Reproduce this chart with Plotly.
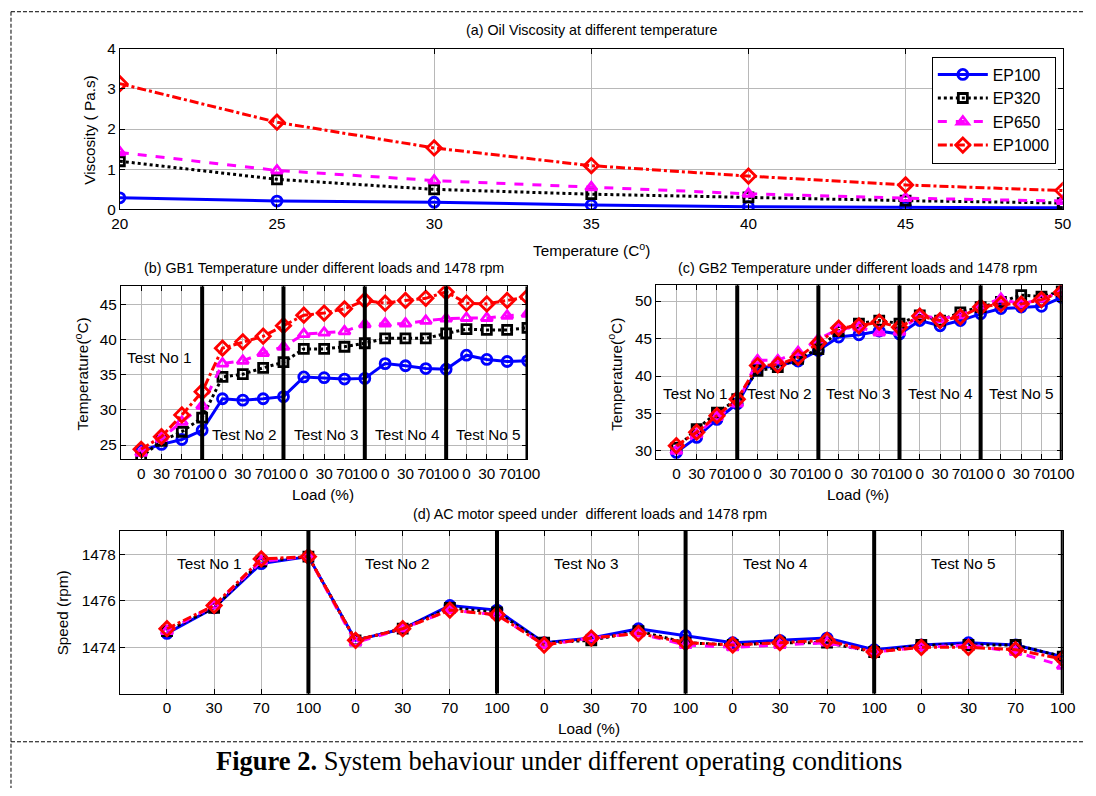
import plotly.graph_objects as go

W, H = 1096, 796

# ---------------- data ----------------
temps = [20, 25, 30, 35, 40, 45, 50]
visc_ep100 = [0.29, 0.21, 0.18, 0.11, 0.07, 0.06, 0.04]
visc_ep320 = [1.20, 0.75, 0.50, 0.38, 0.30, 0.22, 0.16]
visc_ep650 = [1.42, 0.97, 0.72, 0.55, 0.39, 0.28, 0.21]
visc_ep1000 = [3.13, 2.17, 1.53, 1.09, 0.83, 0.61, 0.47]

load_idx = list(range(1, 21))
load_labels = ["0", "30", "70", "100"] * 5
test_dividers = [4, 8, 12, 16, 20]
test_names = ["Test No 1", "Test No 2", "Test No 3", "Test No 4", "Test No 5"]

gb1_ep100 = [24.2, 25.1, 25.8, 27.1, 31.6, 31.4, 31.6, 31.9, 34.7, 34.6, 34.4, 34.5, 36.6, 36.3, 35.9, 35.8, 37.8, 37.2, 36.9, 37.0]
gb1_ep320 = [23.3, 25.6, 26.9, 28.9, 34.7, 35.1, 36.0, 36.8, 38.7, 38.7, 39.0, 39.5, 40.2, 40.2, 40.2, 40.9, 41.5, 41.4, 41.4, 41.7]
gb1_ep650 = [23.9, 26.0, 28.3, 30.6, 36.6, 37.0, 38.1, 39.0, 40.8, 41.0, 41.2, 42.2, 42.3, 42.3, 42.7, 43.0, 43.1, 43.1, 43.4, 43.7]
gb1_ep1000 = [24.4, 26.2, 29.3, 32.6, 38.8, 39.7, 40.5, 42.0, 43.5, 43.8, 44.4, 45.6, 45.2, 45.6, 45.9, 46.8, 45.2, 45.1, 45.6, 46.1]

gb2_ep100 = [29.8, 31.8, 34.2, 36.3, 41.0, 41.4, 42.0, 43.4, 45.2, 45.5, 46.0, 45.6, 47.4, 46.7, 47.4, 48.3, 49.0, 49.2, 49.3, 50.5]
gb2_ep320 = [30.4, 32.9, 35.1, 36.9, 40.7, 41.2, 42.3, 43.6, 46.0, 47.0, 47.4, 47.0, 48.1, 47.4, 48.5, 49.2, 49.9, 50.8, 50.6, 51.3]
gb2_ep650 = [30.0, 32.2, 34.5, 36.3, 42.1, 42.1, 43.2, 44.9, 46.3, 46.5, 45.8, 45.9, 48.2, 47.6, 48.1, 49.4, 50.3, 49.6, 50.3, 51.2]
gb2_ep1000 = [30.7, 32.5, 34.7, 36.9, 41.4, 41.5, 42.5, 44.4, 46.4, 46.7, 47.2, 46.5, 48.0, 47.4, 47.9, 49.2, 49.6, 49.6, 50.2, 51.2]

spd_ep100 = [1474.6, 1475.7, 1477.6, 1477.9, 1474.3, 1474.8, 1475.8, 1475.6, 1474.2, 1474.4, 1474.8, 1474.5, 1474.2, 1474.3, 1474.4, 1473.9, 1474.1, 1474.2, 1474.1, 1473.6]
spd_ep320 = [1474.7, 1475.7, 1477.7, 1477.9, 1474.3, 1474.8, 1475.7, 1475.5, 1474.2, 1474.3, 1474.7, 1474.2, 1474.1, 1474.2, 1474.2, 1473.8, 1474.1, 1474.1, 1474.1, 1473.6]
spd_ep650 = [1474.7, 1475.8, 1477.7, 1477.9, 1474.2, 1474.8, 1475.6, 1475.4, 1474.1, 1474.4, 1474.6, 1474.1, 1474.0, 1474.1, 1474.2, 1473.8, 1474.0, 1474.1, 1473.8, 1473.2]
spd_ep1000 = [1474.8, 1475.8, 1477.8, 1477.9, 1474.3, 1474.8, 1475.6, 1475.4, 1474.1, 1474.4, 1474.6, 1474.2, 1474.1, 1474.2, 1474.3, 1473.8, 1474.0, 1474.0, 1473.9, 1473.5]

# ---------------- styles ----------------
FONT = "Liberation Sans, Arial, sans-serif"
FS = 15.3   # general text size
TS = 14.3   # panel title size
styles = {
    "EP100": dict(color="#0000FF", dash="solid", symbol="circle-open", size=10),
    "EP320": dict(color="#000000", dash="dot", symbol="square-open", size=9),
    "EP650": dict(color="#FF00FF", dash="dash", symbol="triangle-up-open", size=10),
    "EP1000": dict(color="#FF0000", dash="dashdot", symbol="diamond-open", size=11),
}

# reference pixel -> paper fraction (compensates the page framing)
def px(x):
    return (1.0097 * x - 1.0) / W

def py(y):
    return 1 - (1.0205 * y - 6.4) / H

fig = go.Figure()

def add_series(xs, ys, name, xa, ya, show):
    s = styles[name]
    fig.add_trace(go.Scatter(
        x=xs, y=ys, name=name, mode="lines+markers",
        xaxis=xa, yaxis=ya, showlegend=show,
        line=dict(color=s["color"], width=3, dash=s["dash"]),
        marker=dict(symbol=s["symbol"], size=s["size"], color=s["color"],
                    line=dict(color=s["color"], width=2.8)),
    ))

names = ["EP100", "EP320", "EP650", "EP1000"]
for n, v in zip(names, [visc_ep100, visc_ep320, visc_ep650, visc_ep1000]):
    add_series(temps, v, n, "x", "y", True)
for n, v in zip(names, [gb1_ep100, gb1_ep320, gb1_ep650, gb1_ep1000]):
    add_series(load_idx, v, n, "x2", "y2", False)
for n, v in zip(names, [gb2_ep100, gb2_ep320, gb2_ep650, gb2_ep1000]):
    add_series(load_idx, v, n, "x3", "y3", False)
for n, v in zip(names, [spd_ep100, spd_ep320, spd_ep650, spd_ep1000]):
    add_series(load_idx, v, n, "x4", "y4", False)

axis_common = dict(
    showline=True, linecolor="black", linewidth=1.2, mirror="allticks",
    ticks="inside", ticklen=5, tickcolor="black", tickwidth=1,
    showgrid=True, gridcolor="#b8b8b8", gridwidth=1, zeroline=False,
    tickfont=dict(family=FONT, size=FS, color="black"), tickangle=0,
)

# panel geometry in reference pixels
geo = {
    1: dict(x0=113, x1=1066, y0=46, y1=207),
    2: dict(x0=114, x1=525, y0=284, y1=457),
    3: dict(x0=655, x1=1065, y0=283, y1=457),
    4: dict(x0=113, x1=1066, y0=529, y1=692),
}

layout = dict(
    width=W, height=H, margin=dict(l=0, r=0, t=0, b=0),
    paper_bgcolor="white", plot_bgcolor="white",
    font=dict(family=FONT, size=FS, color="black"),
    showlegend=True,
    legend=dict(x=px(1059), xanchor="right", y=py(54), yanchor="top",
                bordercolor="black", borderwidth=1, bgcolor="white",
                font=dict(family=FONT, size=15.8, color="black"),
                tracegroupgap=0, itemwidth=50),
)

for i in range(1, 5):
    g = geo[i]
    xs = "xaxis" if i == 1 else f"xaxis{i}"
    ys = "yaxis" if i == 1 else f"yaxis{i}"
    xa = dict(axis_common, domain=[px(g["x0"]), px(g["x1"])],
              anchor="y" if i == 1 else f"y{i}")
    ya = dict(axis_common, domain=[py(g["y1"]), py(g["y0"])],
              anchor="x" if i == 1 else f"x{i}")
    layout[xs] = xa
    layout[ys] = ya

layout["xaxis"].update(range=[20, 50], tickvals=temps, ticktext=[str(t) for t in temps])
layout["yaxis"].update(range=[0, 4], tickvals=[0, 1, 2, 3, 4])
for i in (2, 3, 4):
    layout[f"xaxis{i}"].update(range=[0, 20], tickvals=load_idx, ticktext=load_labels)
layout["yaxis2"].update(range=[23, 47.6], tickvals=[25, 30, 35, 40, 45])
layout["yaxis3"].update(range=[28.9, 52.1], tickvals=[30, 35, 40, 45, 50])
layout["yaxis4"].update(range=[1472, 1479], tickvals=[1474, 1476, 1478])

fig.update_layout(**layout)

# thick test divider lines (data x, full axis height)
yr = {2: (23, 47.6), 3: (28.9, 52.1), 4: (1472, 1479)}
shapes = []
for i in (2, 3, 4):
    for d in test_dividers:
        shapes.append(dict(type="line", xref=f"x{i}", yref=f"y{i}",
                           x0=d, x1=d, y0=yr[i][0], y1=yr[i][1],
                           line=dict(color="black", width=4), layer="above"))

# dashed frame
dash = "4px,2px"
shapes.append(dict(type="line", xref="paper", yref="paper", x0=px(3), x1=1, y0=py(9), y1=py(9),
                   line=dict(color="black", width=1, dash=dash)))
shapes.append(dict(type="line", xref="paper", yref="paper", x0=px(3), x1=px(3), y0=py(9), y1=0,
                   line=dict(color="black", width=1, dash=dash)))
shapes.append(dict(type="line", xref="paper", yref="paper", x0=px(3), x1=1, y0=py(740), y1=py(740),
                   line=dict(color="black", width=1, dash=dash)))
fig.update_layout(shapes=shapes)

ann = []

def text(x, y, s, size=FS, angle=0, family=FONT):
    ann.append(dict(x=px(x), y=py(y), xref="paper", yref="paper", text=s,
                    showarrow=False, xanchor="center", yanchor="middle",
                    textangle=angle, font=dict(family=family, size=size, color="black")))

# panel titles
text(590, 27, "(a) Oil Viscosity at different temperature", size=TS)
text(319, 266, "(b) GB1 Temperature under different loads and 1478 rpm", size=TS)
text(859, 266, "(c) GB2 Temperature under different loads and 1478 rpm", size=TS)
text(588, 512, "(d) AC motor speed under&nbsp;&nbsp;different loads and 1478 rpm", size=TS)

# axis titles
text(590, 247, "Temperature (C<sup>o</sup>)")
text(82, 128, "Viscosity ( Pa.s)", angle=-90)
text(318, 492, "Load (%)")
text(74, 372, "Temperature(<sup>o</sup>C)", angle=-90)
text(859, 492, "Load (%)")
text(613, 372, "Temperature(<sup>o</sup>C)", angle=-90)
text(587, 727, "Load (%)")
text(56, 611, "Speed (rpm)", angle=-90)

# test labels (data coordinates)
tb_x = [1.9, 6.1, 10.1, 14.1, 18.1]
tb_y = [37.45, 26.5, 26.5, 26.5, 26.5]
tc_x = [1.96, 6.1, 10.0, 14.0, 18.0]
td_x = [1.9, 5.9, 9.9, 13.9, 17.9]
for k, nm in enumerate(test_names):
    ann.append(dict(x=tb_x[k], y=tb_y[k], xref="x2", yref="y2", text=nm, showarrow=False,
                    xanchor="center", yanchor="middle", font=dict(family=FONT, size=FS, color="black")))
    ann.append(dict(x=tc_x[k], y=37.6, xref="x3", yref="y3", text=nm, showarrow=False,
                    xanchor="center", yanchor="middle", font=dict(family=FONT, size=FS, color="black")))
    ann.append(dict(x=td_x[k], y=1477.6, xref="x4", yref="y4", text=nm, showarrow=False,
                    xanchor="center", yanchor="middle", font=dict(family=FONT, size=FS, color="black")))

# caption
ann.append(dict(x=px(557), y=py(759), xref="paper", yref="paper",
                text="<b>Figure 2.</b> System behaviour under different operating conditions",
                showarrow=False, xanchor="center", yanchor="middle",
                font=dict(family="Liberation Serif, Times New Roman, serif", size=26.5, color="black")))

fig.update_layout(annotations=ann)

fig.write_html("out.html", config={"displayModeBar": False},
               post_script="document.body.style.margin='0';")
